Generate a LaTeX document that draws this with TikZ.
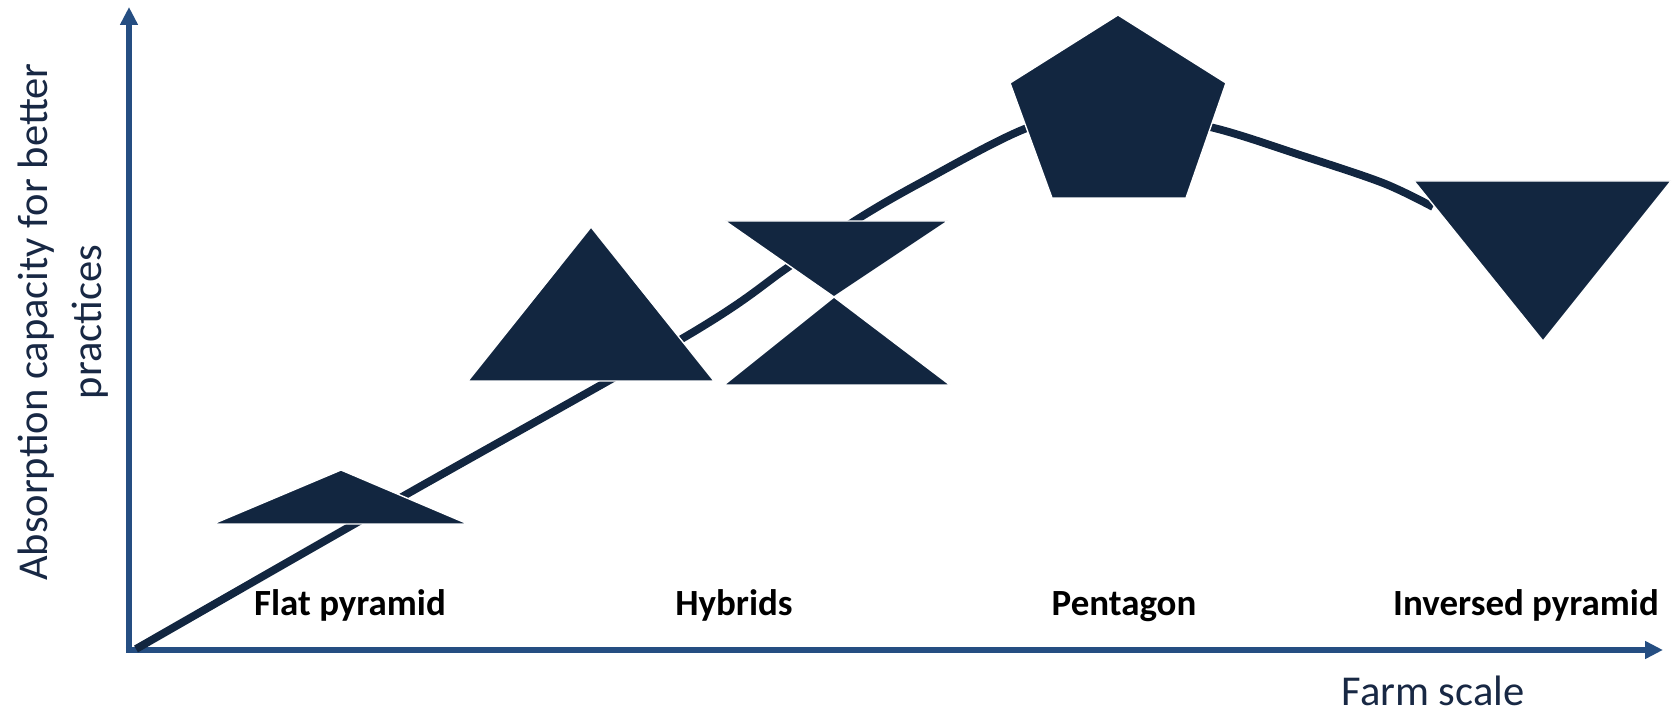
\documentclass[tikz,border=0pt]{standalone}
\usepackage{fontspec}
\setmainfont{Carlito}
\usepackage{tikz}
\usetikzlibrary{arrows.meta}
\definecolor{shapecolor}{RGB}{18,38,64}
\definecolor{axiscolor}{RGB}{37,78,130}
\definecolor{labelcolor}{RGB}{24,40,68}

\begin{document}
\begin{tikzpicture}[
        x=0.01cm, y=-0.01cm,
        axis/.style={draw=axiscolor, line width=0.06cm, -{Triangle[length=0.18cm, width=0.17cm]}},
        trend/.style={draw=shapecolor, line width=0.078cm, line join=round},
        farm/.style={fill=shapecolor, draw=white, line width=0.4pt},
        typelabel/.style={font=\fontsize{10.5}{12}\selectfont\bfseries, text=black, anchor=base, inner sep=0pt},
        axislabel/.style={font=\fontsize{12.1}{15.4}\selectfont, text=labelcolor, inner sep=0pt}
    ]
        \useasboundingbox (0,0) rectangle (1678,713);

        % Axes
        \coordinate (origin) at (129,650);
        \coordinate (ytip) at (129,7);
        \coordinate (xtip) at (1663,650);
        \draw[axis] ([yshift=-0.03cm]origin) -- (ytip);
        \draw[axis] ([xshift=-0.03cm]origin) -- (xtip);

        % Trend curve
        \draw[trend] plot[smooth, tension=0.55] coordinates {(136,649) (400,498) (690,334) (787,268) (853,222) (920,183) (1027,128) (1110,110) (1210,127) (1300,155) (1383,183) (1433,207)};

        % Farm structures
        \filldraw[farm] (213,524) -- (341,470) -- (468,524) -- cycle;
        \filldraw[farm] (468,381) -- (591,227) -- (714,381) -- cycle;
        \filldraw[farm] (725,221) -- (948,221) -- (834,297) -- cycle;
        \filldraw[farm] (834,297) -- (950,385) -- (724,385) -- cycle;
        \filldraw[farm] (1118,15) -- (1226,83) -- (1186,198) -- (1052,198) -- (1010,83) -- cycle;
        \filldraw[farm] (1414,181) -- (1671,181) -- (1543,341) -- cycle;

        % Labels
        \node[typelabel] (flat) at (350,616) {Flat pyramid};
        \node[typelabel] (hybrids) at (734,616) {Hybrids};
        \node[typelabel] (pentagon) at (1124,616) {Pentagon};
        \node[typelabel] (inversed) at (1526,616) {Inversed pyramid};
        \node[axislabel, anchor=base] (xlabel) at (1433,706) {Farm scale};
        \node[axislabel, align=center, rotate=90] (ylabel) at (63,322) {Absorption capacity for better\\practices};
    \end{tikzpicture}
\end{document}
